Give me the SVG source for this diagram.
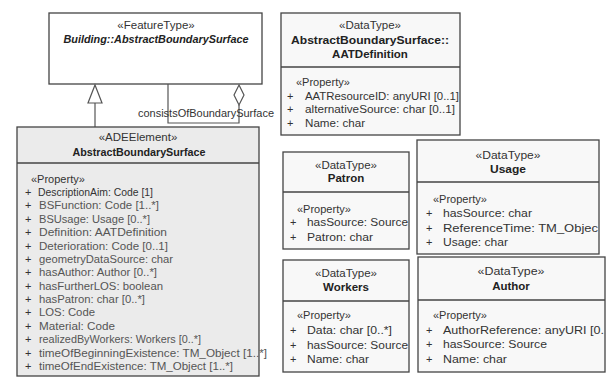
<svg xmlns="http://www.w3.org/2000/svg" width="611" height="377" viewBox="0 0 611 377">
<style>
text{font-family:"Liberation Sans",Arial,sans-serif;fill:#333;font-size:11px}
.st{font-size:11.5px;text-anchor:middle}
.nm{font-size:11.5px;font-weight:bold;text-anchor:middle;fill:#222}
.it{font-style:italic}
.box{fill:#f8f8f8;stroke:#444;stroke-width:1.3}
.wbox{fill:#fff;stroke:#444;stroke-width:1.3}
.gbox{fill:#ebebeb;stroke:#444;stroke-width:1.3}
.sep{stroke:#444;stroke-width:1.3}
.ln{fill:none;stroke:#555;stroke-width:1.2}
.hd{fill:#fff;stroke:#555;stroke-width:1.2}
.att{fill:#555}
</style>
<rect width="611" height="377" fill="#fff"/>

<g id="FeatureType">
<rect class="wbox" x="49" y="13" width="213" height="71"/>
<text class="st" x="156" y="29">«FeatureType»</text>
<text class="nm it" x="156" y="43" textLength="185" lengthAdjust="spacingAndGlyphs">Building::AbstractBoundarySurface</text>
</g>

<g id="connectors">
<line class="ln" x1="95" y1="103" x2="95" y2="127"/>
<polygon class="hd" points="95,85 102,103 88,103"/>
<path class="ln" d="M168,84 V123 H239 V105"/>
<polygon class="hd" points="239,85 244,95 239,105 234,95"/>
<text x="138" y="117" textLength="136" lengthAdjust="spacingAndGlyphs">consistsOfBoundarySurface</text>
</g>

<g id="ADEElement">
<rect class="gbox" x="17" y="127" width="242" height="249"/>
<line class="sep" x1="17" y1="163" x2="259" y2="163"/>
<text class="st" x="138" y="141">«ADEElement»</text>
<text class="nm" x="139" y="156" textLength="133" lengthAdjust="spacingAndGlyphs">AbstractBoundarySurface</text>
<text x="31" y="183">«Property»</text>
<g class="att">
<text x="25" y="196" fill="#999">+</text>
<text x="25" y="209">+</text>
<text x="25" y="223">+</text>
<text x="25" y="236">+</text>
<text x="25" y="250">+</text>
<text x="25" y="263">+</text>
<text x="25" y="276">+</text>
<text x="25" y="290">+</text>
<text x="25" y="303">+</text>
<text x="25" y="316">+</text>
<text x="25" y="330">+</text>
<text x="25" y="343">+</text>
<text x="25" y="357">+</text>
<text x="25" y="370">+</text>
</g>
<g>
<text x="38" y="196" textLength="115" lengthAdjust="spacingAndGlyphs">DescriptionAim: Code [1]</text>
<text x="39" y="209" class="att" textLength="120" lengthAdjust="spacingAndGlyphs">BSFunction: Code [1..*]</text>
<text x="39" y="223" class="att" textLength="111" lengthAdjust="spacingAndGlyphs">BSUsage: Usage [0..*]</text>
<text x="39" y="236" class="att" textLength="128" lengthAdjust="spacingAndGlyphs">Definition: AATDefinition</text>
<text x="39" y="250" class="att" textLength="129" lengthAdjust="spacingAndGlyphs">Deterioration: Code [0..1]</text>
<text x="39" y="263" class="att" textLength="134" lengthAdjust="spacingAndGlyphs">geometryDataSource: char</text>
<text x="39" y="276" class="att" textLength="118" lengthAdjust="spacingAndGlyphs">hasAuthor: Author [0..*]</text>
<text x="39" y="290" class="att" textLength="124" lengthAdjust="spacingAndGlyphs">hasFurtherLOS: boolean</text>
<text x="39" y="303" class="att" textLength="106" lengthAdjust="spacingAndGlyphs">hasPatron: char [0..*]</text>
<text x="39" y="316" class="att" textLength="56" lengthAdjust="spacingAndGlyphs">LOS: Code</text>
<text x="39" y="330" class="att" textLength="76" lengthAdjust="spacingAndGlyphs">Material: Code</text>
<text x="39" y="343" class="att" textLength="162" lengthAdjust="spacingAndGlyphs">realizedByWorkers: Workers [0..*]</text>
<text x="39" y="357" class="att" textLength="228" lengthAdjust="spacingAndGlyphs">timeOfBeginningExistence: TM_Object [1..*]</text>
<text x="39" y="370" class="att" textLength="194" lengthAdjust="spacingAndGlyphs">timeOfEndExistence: TM_Object [1..*]</text>
</g>
</g>

<g id="AATDefinition">
<rect class="box" x="281" y="13" width="179" height="122"/>
<line class="sep" x1="281" y1="67" x2="460" y2="67"/>
<text class="st" x="370" y="29">«DataType»</text>
<text class="nm" x="370" y="44" textLength="158" lengthAdjust="spacingAndGlyphs">AbstractBoundarySurface::</text>
<text class="nm" x="370" y="58">AATDefinition</text>
<text x="296" y="86">«Property»</text>
<text x="287" y="100">+</text>
<text x="287" y="113">+</text>
<text x="287" y="127">+</text>
<text x="305" y="100" textLength="154" lengthAdjust="spacingAndGlyphs">AATResourceID: anyURI [0..1]</text>
<text x="305" y="113" textLength="150" lengthAdjust="spacingAndGlyphs">alternativeSource: char [0..1]</text>
<text x="305" y="127" textLength="60" lengthAdjust="spacingAndGlyphs">Name: char</text>
</g>

<g id="Patron">
<rect class="box" x="283" y="152" width="126" height="97"/>
<line class="sep" x1="283" y1="192" x2="409" y2="192"/>
<text class="st" x="346" y="169">«DataType»</text>
<text class="nm" x="346" y="182">Patron</text>
<text x="297" y="213">«Property»</text>
<text x="290" y="226">+</text>
<text x="290" y="241">+</text>
<text x="307" y="226" textLength="101" lengthAdjust="spacingAndGlyphs">hasSource: Source</text>
<text x="307" y="241" textLength="66" lengthAdjust="spacingAndGlyphs">Patron: char</text>
</g>

<g id="Usage">
<rect class="box" x="417" y="140" width="182" height="114"/>
<line class="sep" x1="417" y1="182" x2="599" y2="182"/>
<text class="st" x="508" y="159" textLength="65" lengthAdjust="spacingAndGlyphs">«DataType»</text>
<text class="nm" x="508" y="173" textLength="36" lengthAdjust="spacingAndGlyphs">Usage</text>
<text x="433" y="203">«Property»</text>
<text x="426" y="217">+</text>
<text x="426" y="232">+</text>
<text x="426" y="246">+</text>
<text x="443" y="217" textLength="89" lengthAdjust="spacingAndGlyphs">hasSource: char</text>
<text x="443" y="232" textLength="155" lengthAdjust="spacingAndGlyphs">ReferenceTime: TM_Objec</text>
<text x="443" y="246" textLength="65" lengthAdjust="spacingAndGlyphs">Usage: char</text>
</g>

<g id="Workers">
<rect class="box" x="283" y="260" width="126" height="112"/>
<line class="sep" x1="283" y1="301" x2="409" y2="301"/>
<text class="st" x="346" y="277">«DataType»</text>
<text class="nm" x="346" y="291">Workers</text>
<text x="297" y="319">«Property»</text>
<text x="290" y="334">+</text>
<text x="290" y="349">+</text>
<text x="290" y="363">+</text>
<text x="307" y="334" textLength="85" lengthAdjust="spacingAndGlyphs">Data: char [0..*]</text>
<text x="307" y="349" textLength="101" lengthAdjust="spacingAndGlyphs">hasSource: Source</text>
<text x="307" y="363" textLength="62" lengthAdjust="spacingAndGlyphs">Name: char</text>
</g>

<g id="Author">
<rect class="box" x="418" y="257" width="187" height="115"/>
<line class="sep" x1="418" y1="300" x2="605" y2="300"/>
<text class="st" x="511" y="275" textLength="67" lengthAdjust="spacingAndGlyphs">«DataType»</text>
<text class="nm" x="511" y="290">Author</text>
<text x="433" y="319">«Property»</text>
<text x="426" y="334">+</text>
<text x="426" y="348">+</text>
<text x="426" y="363">+</text>
<text x="443" y="334" textLength="161" lengthAdjust="spacingAndGlyphs">AuthorReference: anyURI [0.</text>
<text x="443" y="348" textLength="104" lengthAdjust="spacingAndGlyphs">hasSource: Source</text>
<text x="443" y="363" textLength="64" lengthAdjust="spacingAndGlyphs">Name: char</text>
</g>
</svg>
